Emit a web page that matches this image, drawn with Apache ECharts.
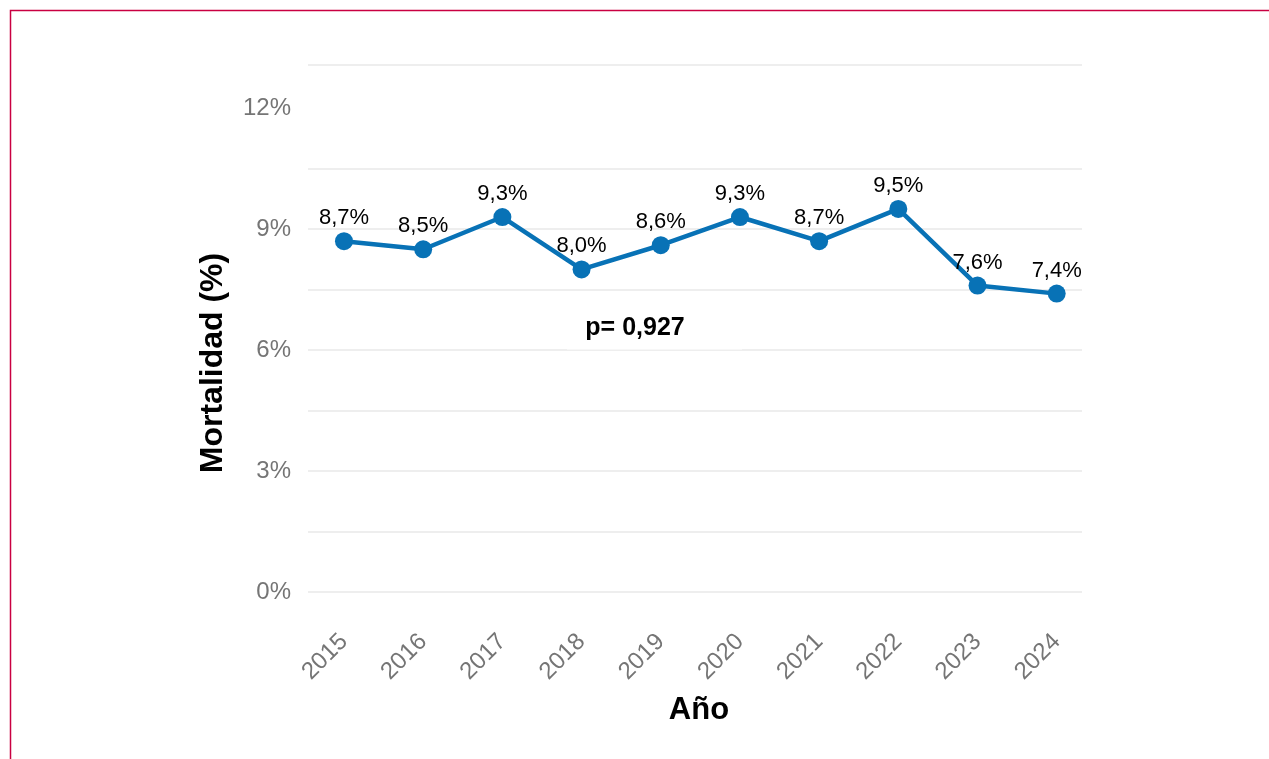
<!DOCTYPE html>
<html>
<head>
<meta charset="utf-8">
<script src="https://cdn.jsdelivr.net/npm/echarts@6/dist/echarts.min.js"></script>
<style>
html,body{margin:0;padding:0;background:#fff;}
#chart{width:1269px;height:759px;}
</style>
</head>
<body>
<div id="chart"></div>
<script>
// Data
const years = [2015, 2016, 2017, 2018, 2019, 2020, 2021, 2022, 2023, 2024];
const mortality = [8.7, 8.5, 9.3, 8.0, 8.6, 9.3, 8.7, 9.5, 7.6, 7.4];
const yTickLabels = [0, 3, 6, 9, 12];
const pValueText = 'p= 0,927';
const xTitle = 'Año';
const yTitle = 'Mortalidad (%)';

const FONT = '"Liberation Sans", Arial, Helvetica, sans-serif';
const grid = {left: 308, right: 187, top: 65, bottom: 167};

const gridColors = ['#eeeeee','#eeeeee','#eeeeee','#eeeeee','#eeeeee','#eeeeee','#eeeeee','#eeeeee','rgba(0,0,0,0)','#eeeeee'];

const chart = echarts.init(document.getElementById('chart'), null, {renderer: 'canvas'});
chart.setOption({
  animation: false,
  backgroundColor: '#ffffff',
  grid: grid,
  xAxis: {
    type: 'value',
    min: 2014.5454,
    max: 2024.3195,
    axisLine: {show: false},
    axisTick: {show: false},
    splitLine: {show: false},
    axisLabel: {
      customValues: years,
      rotate: 45,
      margin: 46,
      fontSize: 24,
      color: '#757575',
      fontFamily: FONT,
      formatter: v => String(v)
    }
  },
  yAxis: {
    type: 'value',
    min: 0,
    max: 13.07,
    interval: 1.5,
    axisLine: {show: false},
    axisTick: {show: false},
    splitLine: {show: true, lineStyle: {color: gridColors, width: 2}},
    axisLabel: {
      margin: 17,
      fontSize: 24,
      color: '#757575',
      fontFamily: FONT,
      formatter: v => yTickLabels.indexOf(v) >= 0 ? v + '%' : ''
    }
  },
  series: [{
    type: 'line',
    data: years.map((y, i) => [y, mortality[i]]),
    symbol: 'circle',
    symbolSize: 18,
    lineStyle: {width: 4.5, color: '#0872B6'},
    itemStyle: {color: '#0872B6'},
    z: 5,
    label: {
      show: true,
      position: 'top',
      distance: 3,
      fontSize: 22,
      color: '#000000',
      fontFamily: FONT,
      formatter: p => p.value[1].toFixed(1).replace('.', ',') + '%'
    }
  }],
  graphic: [
    {type: 'rect', z: 100, silent: true, shape: {x: 10.5, y: 10.5, width: 1400, height: 900},
     style: {fill: 'none', stroke: '#C90042', lineWidth: 1.5}},
    {type: 'rect', z: 1, silent: true, shape: {x: 567, y: 291, width: 175, height: 58.5},
     style: {fill: '#ffffff'}},
    {type: 'text', z: 10, x: 635, y: 328, silent: true,
     style: {text: pValueText, font: 'bold 25px ' + FONT, fill: '#000000', align: 'center', verticalAlign: 'middle'}},
    {type: 'text', z: 10, x: 699, y: 710, silent: true,
     style: {text: xTitle, font: 'bold 31px ' + FONT, fill: '#000000', align: 'center', verticalAlign: 'middle'}},
    {type: 'text', z: 10, x: 213, y: 363, rotation: Math.PI / 2, silent: true,
     style: {text: yTitle, font: 'bold 32px ' + FONT, fill: '#000000', align: 'center', verticalAlign: 'middle'}}
  ]
});
</script>
</body>
</html>
